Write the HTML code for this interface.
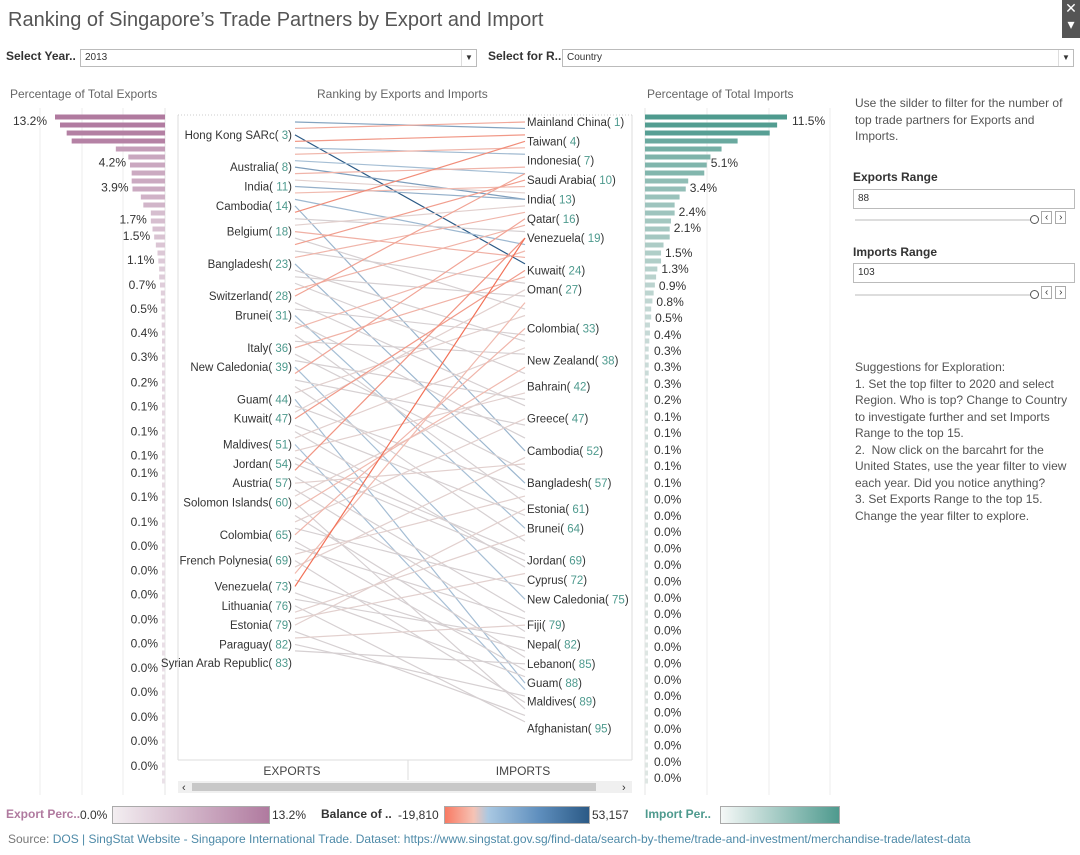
<!DOCTYPE html>
<html><head><meta charset="utf-8">
<style>
body{margin:0;width:1080px;height:855px;background:#fff;font-family:"Liberation Sans",sans-serif;position:relative;overflow:hidden;color:#333}
.abs{position:absolute}
.sel{position:absolute;height:16px;border:1px solid #bbb;background:#fff;font-size:10px;line-height:16px;padding-left:4px;box-sizing:content-box}
.sel .arr{position:absolute;right:0;top:0;width:14px;height:16px;border-left:1px solid #ddd;text-align:center;font-size:8px;color:#333}
.lbl{font-size:12px;font-weight:bold;color:#333}
.side{font-size:12px;color:#555;line-height:16.5px}
</style></head><body>
<div class="abs" style="left:8px;top:9px;font-size:20px;color:#555">Ranking of Singapore’s Trade Partners by Export and Import</div>
<div class="abs" style="left:1062px;top:0;width:18px;height:38px;background:#555;color:#fff;font-size:14px;text-align:center;line-height:16px">✕<br>▾</div>
<div class="abs lbl" style="left:6px;top:49px">Select Year..</div>
<div class="sel" style="left:80px;top:49px;width:391px">2013<div class="arr">▼</div></div>
<div class="abs lbl" style="left:488px;top:49px">Select for R..</div>
<div class="sel" style="left:562px;top:49px;width:506px">Country<div class="arr">▼</div></div>
<div class="abs" style="left:10px;top:87px;font-size:12px;color:#666">Percentage of Total Exports</div>
<div class="abs" style="left:317px;top:87px;font-size:12px;color:#666">Ranking by Exports and Imports</div>
<div class="abs" style="left:647px;top:87px;font-size:12px;color:#666">Percentage of Total Imports</div>

<svg class="abs" style="left:0;top:0" width="1080" height="800" id="chart"></svg>

<div class="abs side" style="left:855px;top:95px;width:215px">Use the silder to filter for the number of top trade partners for Exports and Imports.</div>
<div class="abs lbl" style="left:853px;top:170px">Exports Range</div>
<div class="sel" style="left:853px;top:189px;width:216px;height:18px;line-height:18px">88</div>
<div class="abs" style="left:855px;top:219px;width:180px;height:2px;background:#ddd"><div style="position:absolute;right:-4px;top:-4px;width:7px;height:7px;border:1px solid #555;border-radius:50%;background:#fff"></div></div>
<div class="abs" style="left:1041px;top:212px;font-size:10px"><span style="border:1px solid #aaa;padding:0 3px">‹</span> <span style="border:1px solid #aaa;padding:0 3px">›</span></div>
<div class="abs lbl" style="left:853px;top:245px">Imports Range</div>
<div class="sel" style="left:853px;top:263px;width:216px;height:18px;line-height:18px">103</div>
<div class="abs" style="left:855px;top:294px;width:180px;height:2px;background:#ddd"><div style="position:absolute;right:-4px;top:-4px;width:7px;height:7px;border:1px solid #555;border-radius:50%;background:#fff"></div></div>
<div class="abs" style="left:1041px;top:287px;font-size:10px"><span style="border:1px solid #aaa;padding:0 3px">‹</span> <span style="border:1px solid #aaa;padding:0 3px">›</span></div>
<div class="abs side" style="left:855px;top:359px;width:218px">Suggestions for Exploration:<br>1. Set the top filter to 2020 and select Region. Who is top? Change to Country to investigate further and set Imports Range to the top 15.<br>2.&nbsp; Now click on the barcahrt for the United States, use the year filter to view each year. Did you notice anything?<br>3. Set Exports Range to the top 15. Change the year filter to explore.</div>

<div class="abs" style="left:6px;top:807px;font-size:12px;color:#b07a9f;font-weight:bold">Export Perc..</div>
<div class="abs" style="left:80px;top:808px;font-size:12px">0.0%</div>
<div class="abs" style="left:112px;top:806px;width:156px;height:16px;border:1px solid #aaa;background:linear-gradient(90deg,#f3eef1,#b07a9f)"></div>
<div class="abs" style="left:272px;top:808px;font-size:12px">13.2%</div>
<div class="abs" style="left:321px;top:807px;font-size:12px;font-weight:bold">Balance of ..</div>
<div class="abs" style="left:398px;top:808px;font-size:12px">-19,810</div>
<div class="abs" style="left:444px;top:806px;width:144px;height:16px;border:1px solid #aaa;background:linear-gradient(90deg,#f87a63 0%,#f6c3b5 20%,#a9c8e2 30%,#5f8fbe 65%,#2b5a86 100%)"></div>
<div class="abs" style="left:592px;top:808px;font-size:12px">53,157</div>
<div class="abs" style="left:645px;top:807px;font-size:12px;color:#4e9a8e;font-weight:bold">Import Per..</div>
<div class="abs" style="left:720px;top:806px;width:118px;height:16px;border:1px solid #aaa;background:linear-gradient(90deg,#f5f8f7,#4e9a8e)"></div>
<div class="abs" style="left:8px;top:832px;font-size:12px;color:#777;white-space:nowrap">Source: <span style="color:#4e8aa8">DOS | SingStat Website - Singapore International Trade. Dataset: https://www.singstat.gov.sg/find-data/search-by-theme/trade-and-investment/merchandise-trade/latest-data</span></div>

<script>
const exportPct=[13.2,12.6,11.8,11.2,5.9,4.4,4.2,4.0,4.0,3.9,2.9,2.6,1.7,1.7,1.5,1.3,1.1,0.9,0.8,0.7,0.7,0.6,0.5,0.5,0.4,0.4,0.4,0.3,0.3,0.3,0.3,0.2,0.2,0.2,0.2,0.2,0.15,0.15,0.15,0.12,0.12,0.1,0.1,0.1,0.1,0.1,0.1,0.1,0.1,0.1,0.08,0.08,0.08,0.07,0.07,0.07,0.06,0.06,0.06,0.05,0.05,0.05,0.05,0.04,0.04,0.04,0.04,0.03,0.03,0.03,0.03,0.03,0.02,0.02,0.02,0.02,0.02,0.02,0.01,0.01,0.01,0.01,0.01,0.01];
const importPct=[11.5,10.7,10.1,7.5,6.2,5.3,5.0,4.8,3.5,3.3,2.8,2.4,2.4,2.1,2.0,2.0,1.5,1.3,1.3,1.0,0.9,0.8,0.7,0.6,0.5,0.5,0.4,0.4,0.35,0.3,0.3,0.3,0.3,0.25,0.2,0.2,0.15,0.15,0.1,0.1,0.1,0.1,0.1,0.1,0.08,0.08,0.07,0.07,0.06,0.06,0.05,0.05,0.05,0.04,0.04,0.04,0.03,0.03,0.03,0.03,0.02,0.02,0.02,0.02,0.02,0.02,0.01,0.01,0.01,0.01,0.01,0.01,0.01,0.01,0.01,0.01,0.01,0.01,0.01,0.01,0.01,0.01,0.01,0.01];
const exportLabelText=["13.2%","4.2%","3.9%","1.7%","1.5%","1.1%","0.7%","0.5%","0.4%","0.3%","0.2%","0.1%","0.1%","0.1%","0.1%","0.1%","0.1%","0.0%","0.0%","0.0%","0.0%","0.0%","0.0%","0.0%","0.0%","0.0%","0.0%"];
const exportLabelRow=[0.5,5.7,8.8,12.8,14.9,17.9,21,24,27,30,33.2,36.2,39.3,42.3,44.5,47.5,50.6,53.6,56.7,59.7,62.8,65.8,68.9,71.9,75,78,81.1];
const importLabelText=["11.5%","5.1%","3.4%","2.4%","2.1%","1.5%","1.3%","0.9%","0.8%","0.5%","0.4%","0.3%","0.3%","0.3%","0.2%","0.1%","0.1%","0.1%","0.1%","0.1%","0.0%","0.0%","0.0%","0.0%","0.0%","0.0%","0.0%","0.0%","0.0%","0.0%","0.0%","0.0%","0.0%","0.0%","0.0%","0.0%","0.0%","0.0%"];
const importLabelRow=[0.5,5.75,8.9,11.9,13.9,17,19,21.1,23.1,25.1,27.25,29.25,31.25,33.4,35.4,37.5,39.5,41.6,43.6,45.75,47.8,49.85,51.9,53.95,56,58.05,60.1,62.15,64.2,66.25,68.3,70.35,72.4,74.45,76.5,78.55,80.6,82.65];
const exportNames=["Hong Kong SARc","Australia","India","Cambodia","Belgium","Bangladesh","Switzerland","Brunei","Italy","New Caledonia","Guam","Kuwait","Maldives","Jordan","Austria","Solomon Islands","Colombia","French Polynesia","Venezuela","Lithuania","Estonia","Paraguay","Syrian Arab Republic"];
const exportNameRank=[3,8,11,14,18,23,28,31,36,39,44,47,51,54,57,60,65,69,73,76,79,82,83];
const importNames=["Mainland China","Taiwan","Indonesia","Saudi Arabia","India","Qatar","Venezuela","Kuwait","Oman","Colombia","New Zealand","Bahrain","Greece","Cambodia","Bangladesh","Estonia","Brunei","Jordan","Cyprus","New Caledonia","Fiji","Nepal","Lebanon","Guam","Maldives","Afghanistan"];
const importNameRank=[1,4,7,10,13,16,19,24,27,33,38,42,47,52,57,61,64,69,72,75,79,82,85,88,89,95];
const expRank=[1,2,3,4,5,6,7,8,9,10,11,12,13,14,15,16,17,18,19,20,21,22,23,24,25,26,27,28,29,30,31,32,33,34,35,36,37,38,39,40,41,42,43,44,45,46,47,48,49,50,51,52,53,54,55,56,57,58,59,60,61,62,63,64,65,66,67,68,69,70,71,72,73,74,75,76,77,78,79,80,81,82,83];
const impRank=[2,1,23,3,6,5,9,13,8,12,13,11,20,52,4,18,14,22,30,10,26,15,57,35,28,40,17,9,45,34,64,50,21,60,37,25,55,44,75,16,48,66,31,88,58,27,24,62,70,36,89,43,68,69,19,77,54,80,41,92,39,84,47,73,33,86,78,59,91,53,29,83,19,87,81,94,65,71,61,93,79,90,85];
const balance=[8200,-3100,53157,-6400,2100,-900,1500,9800,-1200,-400,4200,-600,2500,3100,-9800,100,-300,-1800,900,-5200,300,-1100,2600,800,200,900,-1400,-4100,1000,300,1400,600,-900,1000,100,-1500,700,200,1300,-3900,250,700,-300,1600,400,-400,-6200,500,800,-100,1200,-200,450,500,-7600,700,-80,800,-400,900,-600,700,-300,300,-1100,500,300,-200,400,-150,-600,200,-19810,300,100,400,-100,-50,-300,200,-50,100,50];

const svg=document.getElementById('chart');
const NS='http://www.w3.org/2000/svg';
function mk(tag,attrs,parent){const e=document.createElementNS(NS,tag);for(const k in attrs)e.setAttribute(k,attrs[k]);(parent||svg).appendChild(e);return e;}
function lerp(a,b,t){return a.map((v,i)=>Math.round(v+(b[i]-v)*t));}
function rgb(c){return 'rgb('+c.join(',')+')';}
const rowY=i=>117+i*8;
const expX=v=>165-v*(110/13.2);
const impX=v=>645+v*(142/11.5);
const rankY=r=>122+(r-1)*6.45;
const L=295,R=525;
[40,82,123].forEach(x=>{const g=mk('line',{x1:x,x2:x,y1:108,y2:795,stroke:'#eee'});});
[707,769,830].forEach(x=>{const g=mk('line',{x1:x,x2:x,y1:108,y2:795,stroke:'#eee'});});
mk('line',{x1:165,x2:165,y1:108,y2:795,stroke:'#e4e4e4'});
mk('line',{x1:645,x2:645,y1:108,y2:795,stroke:'#e4e4e4'});
exportPct.forEach((v,i)=>{const y=rowY(i);if(y>789)return;const t=Math.min(1,v/13.2);const c=lerp([236,228,234],[176,122,159],Math.pow(t,0.5));
 const x=expX(v);const b=mk('rect',{x:Math.min(x,162),y:y-2.5,width:Math.max(165-x,3),height:5,fill:rgb(c)});
 });
exportLabelText.forEach((s,i)=>{const r=exportLabelRow[i];const y=rowY(r)+4;const v=exportPct[Math.round(r)]||0;
 const x=i==0?13:Math.min(expX(v),162)-4;const t=mk('text',{x:x,y:y,'font-size':12,fill:'#333','text-anchor':i==0?'start':'end'});t.textContent=s;
 });
importPct.forEach((v,i)=>{const y=rowY(i);if(y>789)return;const t=Math.min(1,v/11.5);const c=lerp([226,232,230],[78,154,142],Math.pow(t,0.5));
 const b=mk('rect',{x:645,y:y-2.5,width:Math.max(impX(v)-645,3),height:5,fill:rgb(c)});
 });
importLabelText.forEach((s,i)=>{const r=importLabelRow[i];const y=rowY(r)+4;if(y>790)return;const v=importPct[Math.round(r)]||0;
 const x=i==0?792:Math.max(impX(v),650)+4;const t=mk('text',{x:x,y:y,'font-size':12,fill:'#333'});t.textContent=s;
 });
mk('line',{x1:178,x2:632,y1:115,y2:115,stroke:'#ccc','stroke-dasharray':'1,2'});
mk('line',{x1:178,x2:178,y1:115,y2:760,stroke:'#ddd'});
mk('line',{x1:632,x2:632,y1:115,y2:760,stroke:'#ddd'});
mk('line',{x1:178,x2:632,y1:760,y2:760,stroke:'#ddd'});
mk('line',{x1:408,x2:408,y1:760,y2:780,stroke:'#ddd'});
expRank.forEach((e,i)=>{const b=balance[i];let c;
 if(b>=0){const t=Math.min(1,b/53157);c=t<0.02?[214,208,210]:lerp([190,210,228],[43,90,134],Math.pow(t,0.5));}
 else{const t=Math.min(1,-b/19810);c=t<0.03?[226,208,206]:lerp([240,196,188],[242,112,86],Math.pow(t,0.6));}
 const l=mk('line',{x1:L,y1:rankY(e),x2:R,y2:rankY(impRank[i]),stroke:rgb(c),'stroke-width':1.2});
 });
exportNames.forEach((n,i)=>{const y=rankY(exportNameRank[i])+4+(exportNameRank[i]==83?12:0);const t=mk('text',{x:292,y:y,'font-size':11.5,fill:'#333','text-anchor':'end'});
 t.innerHTML=n+'(<tspan fill="#4e9a8e"> '+exportNameRank[i]+'</tspan>)';});
importNames.forEach((n,i)=>{const y=rankY(importNameRank[i])+4+(importNameRank[i]==89?12:0);const t=mk('text',{x:527,y:y,'font-size':11.5,fill:'#333'});
 t.innerHTML=n+'(<tspan fill="#4e9a8e"> '+importNameRank[i]+'</tspan>)';});
const ex=mk('text',{x:292,y:775,'font-size':12,fill:'#444','text-anchor':'middle'});ex.textContent='EXPORTS';
const im=mk('text',{x:523,y:775,'font-size':12,fill:'#444','text-anchor':'middle'});im.textContent='IMPORTS';
const sb=mk('rect',{x:178,y:781,width:454,height:12,fill:'#f0f0f0'});
mk('rect',{x:192,y:783,width:404,height:8,fill:'#c8c8c8'});
const a1=mk('text',{x:182,y:791,'font-size':11,fill:'#333'});a1.textContent='‹';
const a2=mk('text',{x:622,y:791,'font-size':11,fill:'#333'});a2.textContent='›';
</script>
</body></html>
